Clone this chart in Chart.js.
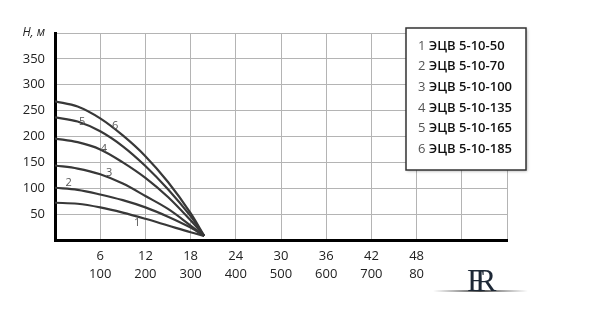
<!DOCTYPE html>
<html><head><meta charset="utf-8">
<script src="https://cdn.jsdelivr.net/npm/chart.js@4"></script>
<style>html,body{margin:0;padding:0;background:#fff}#wrap{width:610px;height:311px}</style>
</head><body><div id="wrap"><canvas id="c" width="610" height="311"></canvas></div>
<script>
// Flow Q, m3/h
const flow = [0, 3, 6, 9, 12, 15, 18, 19.8];
// Head H, m for each pump
const head1 = [72, 70, 63, 53, 41, 28, 15, 8];
const head2 = [101, 97, 88, 77, 63, 45, 24, 8];
const head3 = [144, 138, 127, 109, 85, 60, 28, 8];
const head4 = [196, 189, 175, 150, 120, 83, 38, 8];
const head5 = [237, 229, 210, 181, 143, 98, 46, 8];
const head6 = [268, 258, 235, 202, 162, 112, 52, 8];
const heads = [head1, head2, head3, head4, head5, head6];
const curveNums = ['1', '2', '3', '4', '5', '6'];
const models = ['ЭЦВ 5-10-50', 'ЭЦВ 5-10-70', 'ЭЦВ 5-10-100', 'ЭЦВ 5-10-135', 'ЭЦВ 5-10-165', 'ЭЦВ 5-10-185'];
// where each curve number sits (data units: flow, head)
const labelAt = [[10.9, 33], [1.8, 110], [7.2, 129], [6.5, 177], [3.6, 229], [8.0, 221]];
const yTickLabels = ['50', '100', '150', '200', '250', '300', '350'];
const yTitle = 'H, м';
const xTicksTop = ['6', '12', '18', '24', '30', '36', '42', '48'];
const xTicksBottom = ['100', '200', '300', '400', '500', '600', '700', '80'];

const FONT = "'Open Sans', sans-serif";

const curveLabels = {
  id: 'curveLabels',
  afterDatasetsDraw(chart) {
    const {ctx, scales: {x, y}} = chart;
    ctx.save();
    ctx.font = "11px " + FONT;
    ctx.fillStyle = '#555';
    ctx.textAlign = 'center';
    ctx.textBaseline = 'middle';
    labelAt.forEach((p, i) => ctx.fillText(curveNums[i], x.getPixelForValue(p[0]), y.getPixelForValue(p[1])));
    ctx.restore();
  }
};

const boxLegend = {
  id: 'boxLegend',
  afterDraw(chart) {
    const ctx = chart.ctx;
    ctx.save();
    ctx.shadowColor = 'rgba(0,0,0,0.35)';
    ctx.shadowBlur = 3;
    ctx.shadowOffsetX = 1;
    ctx.shadowOffsetY = 1;
    ctx.fillStyle = '#fff';
    ctx.fillRect(406, 28, 120, 142);
    ctx.shadowColor = 'transparent';
    ctx.strokeStyle = '#333';
    ctx.lineWidth = 1.5;
    ctx.strokeRect(406, 28, 120, 142);
    ctx.textBaseline = 'middle';
    models.forEach((m, i) => {
      const yy = 46 + i * 20.6;
      ctx.font = "13px " + FONT;
      ctx.fillStyle = '#555';
      ctx.fillText(curveNums[i], 418, yy);
      const w = ctx.measureText(curveNums[i] + ' ').width;
      ctx.font = "600 13px " + FONT;
      ctx.fillStyle = '#111';
      ctx.fillText(m, 418 + w, yy);
    });
    // logo
    const g = ctx.createLinearGradient(433, 0, 528, 0);
    g.addColorStop(0, 'rgba(80,80,80,0)');
    g.addColorStop(0.5, 'rgba(60,60,60,0.9)');
    g.addColorStop(1, 'rgba(80,80,80,0)');
    ctx.fillStyle = g;
    ctx.fillRect(433, 290, 95, 2);
    ctx.font = "32px 'Liberation Serif', serif";
    ctx.fillStyle = '#1d2836';
    ctx.textBaseline = 'alphabetic';
    ctx.fillText('F', 467, 291);
    ctx.fillText('R', 475, 291);
    ctx.restore();
  }
};

const datasets = heads.map((h, i) => ({
  label: models[i],
  data: flow.map((q, j) => ({x: q, y: h[j]})),
  borderColor: '#383838',
  borderWidth: 2.2,
  pointRadius: 0,
  tension: 0.35,
  fill: false
}));

new Chart(document.getElementById('c'), {
  type: 'line',
  data: {datasets},
  options: {
    responsive: false,
    animation: false,
    layout: {padding: {left: 0, right: 103, top: 33, bottom: 0}},
    plugins: {legend: {display: false}, tooltip: {enabled: false}},
    scales: {
      x: {
        type: 'linear', min: 0, max: 60,
        border: {color: '#000', width: 3},
        grid: {color: '#b4b4b4', lineWidth: 1, drawTicks: false},
        ticks: {
          stepSize: 6, autoSkip: false, maxRotation: 0, padding: 7,
          color: '#222',
          font: {family: FONT, size: 13, lineHeight: 1.4},
          callback: v => { const i = Math.round(v / 6) - 1; return (i >= 0 && i < xTicksTop.length) ? [xTicksTop[i], xTicksBottom[i]] : ''; }
        },
        afterFit: s => { s.height = 71; }
      },
      y: {
        type: 'linear', min: 0, max: 400,
        border: {color: '#000', width: 3},
        grid: {color: '#b4b4b4', lineWidth: 1, drawTicks: false},
        ticks: {
          stepSize: 50, autoSkip: false, padding: 10,
          color: '#222',
          font: ctx => (ctx.tick && ctx.tick.value === 400) ? {family: FONT, size: 12, style: 'italic'} : {family: FONT, size: 13},
          callback: v => { if (v === 400) return yTitle; const i = Math.round(v / 50) - 1; return (i >= 0 && i < yTickLabels.length) ? yTickLabels[i] : ''; }
        },
        afterFit: s => { s.width = 55; }
      }
    }
  },
  plugins: [curveLabels, boxLegend]
});
</script></body></html>
